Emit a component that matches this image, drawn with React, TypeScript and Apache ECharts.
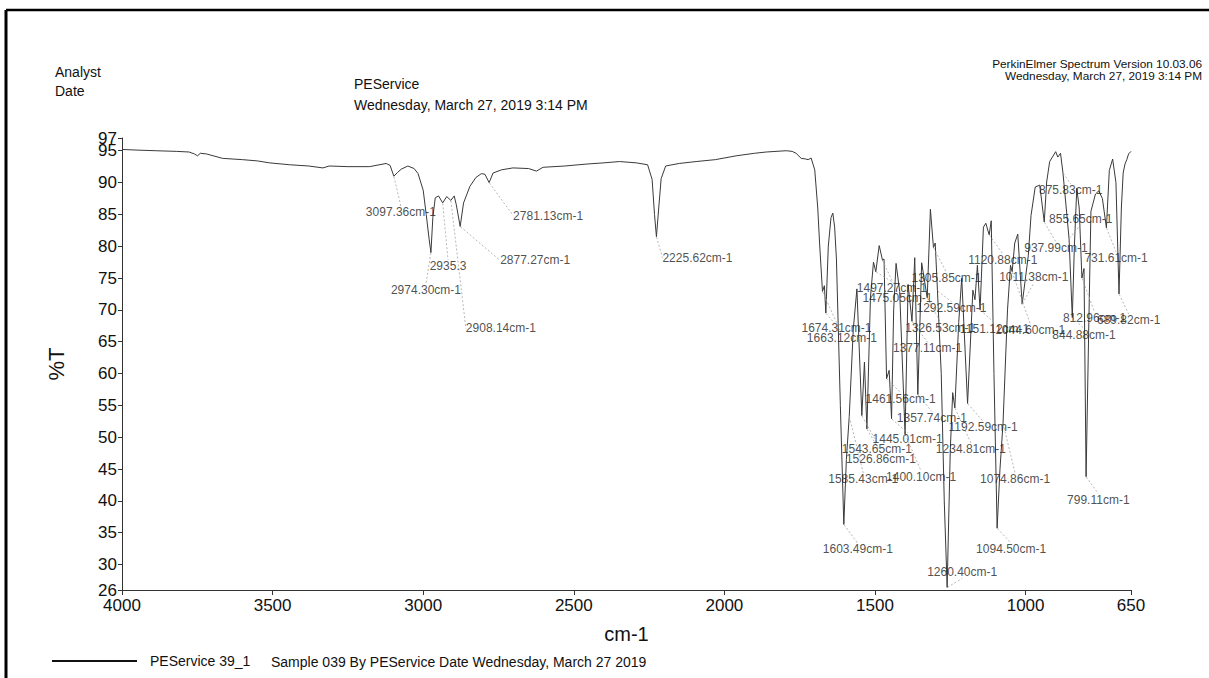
import React, { useEffect, useRef } from "react";
import * as echarts from "echarts";

// Spectrum: wavenumber (cm-1) and %T
const wavenumbers = [
  4000, 3950, 3888, 3820, 3777, 3760, 3749, 3740, 3720, 3666, 3600, 3550, 3511, 3444, 3380, 3333, 3312, 3250, 3178, 3123,
  3110, 3097.36, 3085, 3073, 3051, 3030, 3017, 3000, 2990, 2980, 2974.3, 2968, 2960, 2949, 2935.3, 2922, 2908.14, 2897, 2890, 2877.27,
  2866, 2845, 2825, 2807, 2795, 2781.13, 2768, 2740, 2702, 2650, 2624, 2602, 2530, 2459, 2400, 2348, 2293, 2255, 2240, 2232,
  2225.62, 2218, 2210, 2195, 2150, 2094, 2030, 1961, 1900, 1861, 1795, 1775, 1762, 1745, 1730, 1722, 1712, 1700, 1690, 1684,
  1674.31, 1668, 1663.12, 1655, 1646, 1640, 1634, 1628, 1615, 1603.49, 1595, 1585.43, 1572, 1560, 1543.65, 1535, 1526.86, 1515, 1505, 1497.27,
  1486, 1475.05, 1470, 1461.56, 1453, 1445.01, 1438, 1430, 1418, 1400.1, 1390, 1377.11, 1368, 1357.74, 1345, 1326.53, 1316, 1305.85, 1300, 1292.59,
  1280, 1270, 1260.4, 1250, 1242, 1234.81, 1222, 1212, 1192.59, 1175, 1168, 1160, 1151.12, 1140, 1132, 1120.88, 1114, 1105, 1094.5, 1085,
  1074.86, 1060, 1050, 1044.6, 1036, 1026, 1011.38, 991, 982, 968, 953, 937.99, 930, 920, 900, 893, 884, 875.83, 865, 855.65,
  844.88, 838, 830, 822, 812.96, 806, 799.11, 790, 783, 768, 757, 745, 731.61, 722, 711, 700, 689.82, 682, 676, 670,
  664, 658, 650,
];
const transmittance = [
  95.2, 95.1, 95.0, 94.9, 94.8, 94.5, 94.2, 94.6, 94.5, 93.8, 93.6, 93.4, 93.1, 92.8, 92.6, 92.3, 92.6, 92.5, 92.5, 93.0,
  92.7, 91.0, 91.6, 92.1, 92.6, 92.2, 91.4, 88.8, 85.0, 81.0, 79.0, 84.5, 87.6, 87.9, 86.8, 87.8, 87.2, 87.9, 86.5, 83.1,
  86.8, 89.4, 90.8, 91.4, 91.3, 90.0, 91.5, 92.0, 92.3, 92.2, 91.8, 92.4, 92.6, 92.9, 93.1, 93.3, 93.1, 92.8, 90.5, 85.0,
  81.5, 86.0, 90.6, 92.6, 93.0, 93.3, 93.6, 94.2, 94.6, 94.8, 95.0, 94.9, 94.6, 93.8, 93.7, 93.6, 93.85, 92.0, 86.0, 80.5,
  72.9, 73.8, 69.5, 80.0, 84.5, 85.2, 83.0, 78.0, 55.0, 36.3, 46.5, 53.3, 67.0, 73.3, 53.4, 61.8, 51.3, 72.0, 77.5, 76.0,
  80.1, 77.8, 78.0, 59.2, 60.5, 52.9, 70.0, 77.3, 72.9, 50.5, 74.0, 68.2, 78.2, 56.7, 77.4, 71.9, 85.8, 79.8, 80.5, 73.0,
  60.0, 40.0, 26.4, 48.0, 57.0, 54.6, 68.0, 75.0, 55.3, 73.1, 71.6, 77.0, 70.0, 83.0, 83.6, 81.8, 84.0, 60.0, 35.7, 45.0,
  52.2, 70.0, 77.0, 76.0, 80.5, 81.9, 70.9, 78.5, 84.8, 89.3, 89.6, 83.8, 90.1, 93.3, 94.85, 94.0, 94.6, 91.5, 86.0, 81.2,
  68.8, 80.0, 89.1, 86.0, 75.0, 76.5, 43.8, 68.0, 85.5, 88.2, 88.7, 87.5, 82.9, 91.9, 93.7, 90.0, 72.5, 86.0, 91.5, 92.9,
  93.6, 94.5, 94.9,
];

// Peak annotations
const peakWavenumbers = [
  3097.36, 2974.3, 2935.3, 2908.14, 2877.27, 2781.13, 2225.62, 1674.31, 1663.12, 1603.49,
  1585.43, 1543.65, 1526.86, 1497.27, 1475.05, 1461.56, 1445.01, 1400.1, 1377.11, 1357.74,
  1326.53, 1305.85, 1292.59, 1260.4, 1234.81, 1192.59, 1151.12, 1044.6, 1120.88, 1011.38,
  1094.5, 1074.86, 937.99, 875.83, 855.65, 844.88, 812.96, 799.11, 731.61, 689.82,
];
const peakLabels = [
  "3097.36cm-1", "2974.30cm-1", "2935.3", "2908.14cm-1", "2877.27cm-1", "2781.13cm-1", "2225.62cm-1", "1674.31cm-1", "1663.12cm-1", "1603.49cm-1",
  "1585.43cm-1", "1543.65cm-1", "1526.86cm-1", "1497.27cm-1", "1475.05cm-1", "1461.56cm-1", "1445.01cm-1", "1400.10cm-1", "1377.11cm-1", "1357.74cm-1",
  "1326.53cm-1", "1305.85cm-1", "1292.59cm-1", "1260.40cm-1", "1234.81cm-1", "1192.59cm-1", "1151.12cm-1", "1044.60cm-1", "1120.88cm-1", "1011.38cm-1",
  "1094.50cm-1", "1074.86cm-1", "937.99cm-1", "875.83cm-1", "855.65cm-1", "844.88cm-1", "812.96cm-1", "799.11cm-1", "731.61cm-1", "689.82cm-1",
];
// label placement relative to its peak (px): [dx to text left, dy to text middle]
const peakLabelOffsets = [
  [-28, 36], [-40, 37], [-13, 63], [15, 128], [40, 34], [24, 33], [6, 21], [-21, 37], [-19, 25], [-21, 25],
  [-21, 63], [-20, 33], [-21, 30], [-19, 16], [-20, 38], [-21, 20], [-19, 20], [-19, 43], [-19, 27], [-21, 23],
  [-22, 30], [-22, 31], [-21, 17], [-20, -15], [-19, 41], [-19, 24], [-20, 19], [-17, 58], [-21, 25], [-23, -27],
  [-21, 21], [-23, 56], [-20, 26], [-24, 17], [-20, -20], [-20, 17], [-19, 40], [-19, 23], [-22, 30], [-22, 26],
];

const xTickValues = [4000, 3500, 3000, 2500, 2000, 1500, 1000, 650];
const yTickValues = [26, 30, 35, 40, 45, 50, 55, 60, 65, 70, 75, 80, 85, 90, 95, 97];

const FONT = "'Liberation Sans', Arial, Helvetica, sans-serif";

export default function App() {
  const ref = useRef<HTMLDivElement>(null);

  useEffect(() => {
    if (!ref.current) return;
    const chart = echarts.init(ref.current, undefined, { renderer: "svg" });

    const lineData = wavenumbers.map((w, i) => [w, transmittance[i]]);
    const peakData = peakWavenumbers.map((w, i) => ({
      value: [w, transmittance[wavenumbers.indexOf(w)]],
      label: { formatter: peakLabels[i] },
    }));
    const yMax = yTickValues[yTickValues.length - 1];
    const yMin = yTickValues[0];

    const text = (t: string, x: number, y: number, size: number, align = "left") => ({
      type: "text",
      x,
      y,
      silent: true,
      style: {
        text: t,
        fill: "#111",
        fontSize: size,
        fontFamily: FONT,
        textAlign: align,
        textVerticalAlign: "middle",
      },
    });

    const yLabelStyle = {
      formatter: (v: number) => String(v),
      fontSize: 17,
      color: "#111",
      fontFamily: FONT,
      margin: 5,
      hideOverlap: false,
    };

    chart.setOption({
      animation: false,
      backgroundColor: "#fff",
      grid: { left: 122, top: 138, width: 1009, height: 452 },
      legend: {
        data: ["PEService 39_1"],
        left: 52,
        top: 654,
        padding: 0,
        icon: "rect",
        itemWidth: 85,
        itemHeight: 2,
        itemStyle: { color: "#111" },
        textStyle: { fontSize: 14, color: "#111", fontFamily: FONT, padding: [0, 0, 0, 8] },
        selectedMode: false,
      },
      xAxis: {
        type: "value",
        min: 650,
        max: 4000,
        inverse: true,
        name: "cm-1",
        nameLocation: "middle",
        nameGap: 34,
        nameTextStyle: { fontSize: 20, color: "#111", fontFamily: FONT },
        axisLine: { show: true, lineStyle: { color: "#333", width: 1 } },
        axisTick: { show: true, customValues: xTickValues, length: 5, lineStyle: { color: "#333" } },
        axisLabel: {
          customValues: xTickValues,
          formatter: (v: number) => String(v),
          fontSize: 17,
          color: "#111",
          fontFamily: FONT,
          margin: 7,
          showMinLabel: true,
          showMaxLabel: true,
        },
        splitLine: { show: false },
      },
      yAxis: [
        {
          type: "value",
          min: yMin,
          max: yMax,
          name: "%T",
          nameLocation: "middle",
          nameRotate: 90,
          nameGap: 55,
          nameTextStyle: { fontSize: 22, color: "#111", fontFamily: FONT },
          axisLine: { show: true, lineStyle: { color: "#333", width: 1 } },
          axisTick: { show: true, customValues: yTickValues, length: 4, lineStyle: { color: "#333" } },
          axisLabel: {
            ...yLabelStyle,
            customValues: yTickValues.filter((v) => v !== yMax),
            showMinLabel: true,
            showMaxLabel: true,
          },
          splitLine: { show: false },
        },
        {
          type: "value",
          position: "left",
          min: yMin,
          max: yMax,
          axisLine: { show: false },
          axisTick: { show: false },
          axisLabel: {
            ...yLabelStyle,
            customValues: [yMax],
            showMinLabel: false,
            showMaxLabel: true,
          },
          splitLine: { show: false },
        },
      ],
      series: [
        {
          name: "PEService 39_1",
          type: "line",
          data: lineData,
          showSymbol: false,
          symbol: "none",
          lineStyle: { color: "#3a3a3a", width: 1 },
          itemStyle: { color: "#111" },
          silent: true,
          z: 2,
        },
        {
          name: "peaks",
          type: "scatter",
          data: peakData,
          symbol: "circle",
          symbolSize: 1,
          itemStyle: { color: "rgba(0,0,0,0)" },
          silent: true,
          z: 3,
          label: {
            show: true,
            position: "right",
            fontSize: 12,
            color: "#222",
            textBorderWidth: 0,
            fontFamily: FONT,
          },
          labelLine: {
            show: true,
            lineStyle: { color: "#a5a5a5", width: 0.8, type: [2, 2] },
          },
          labelLayout: (params: any) => {
            const off = peakLabelOffsets[params.dataIndex];
            const r = params.rect;
            return {
              x: r.x + r.width / 2 + off[0],
              y: r.y + r.height / 2 + off[1],
              align: "left",
              verticalAlign: "middle",
              hideOverlap: false,
            };
          },
        },
      ],
      graphic: [
        { type: "line", silent: true, shape: { x1: 6, y1: 10, x2: 6, y2: 678 }, style: { stroke: "#000", lineWidth: 3 } },
        { type: "line", silent: true, shape: { x1: 6, y1: 10, x2: 1209, y2: 10 }, style: { stroke: "#000", lineWidth: 2.5 } },
        text("Analyst", 55, 72, 14),
        text("Date", 55, 91, 14),
        text("PEService", 354, 84, 14),
        text("Wednesday, March 27, 2019 3:14 PM", 354, 105, 14),
        text("PerkinElmer Spectrum Version 10.03.06", 1202, 64, 11.8, "right"),
        text("Wednesday, March 27, 2019 3:14 PM", 1202, 76, 11.8, "right"),
        text("Sample 039 By PEService Date Wednesday, March 27 2019", 271, 662, 14),
      ],
    });

    return () => chart.dispose();
  }, []);

  return (
    <div
      ref={ref}
      style={{ position: "fixed", left: 0, top: 0, width: 1209, height: 678, background: "#fff" }}
    />
  );
}
